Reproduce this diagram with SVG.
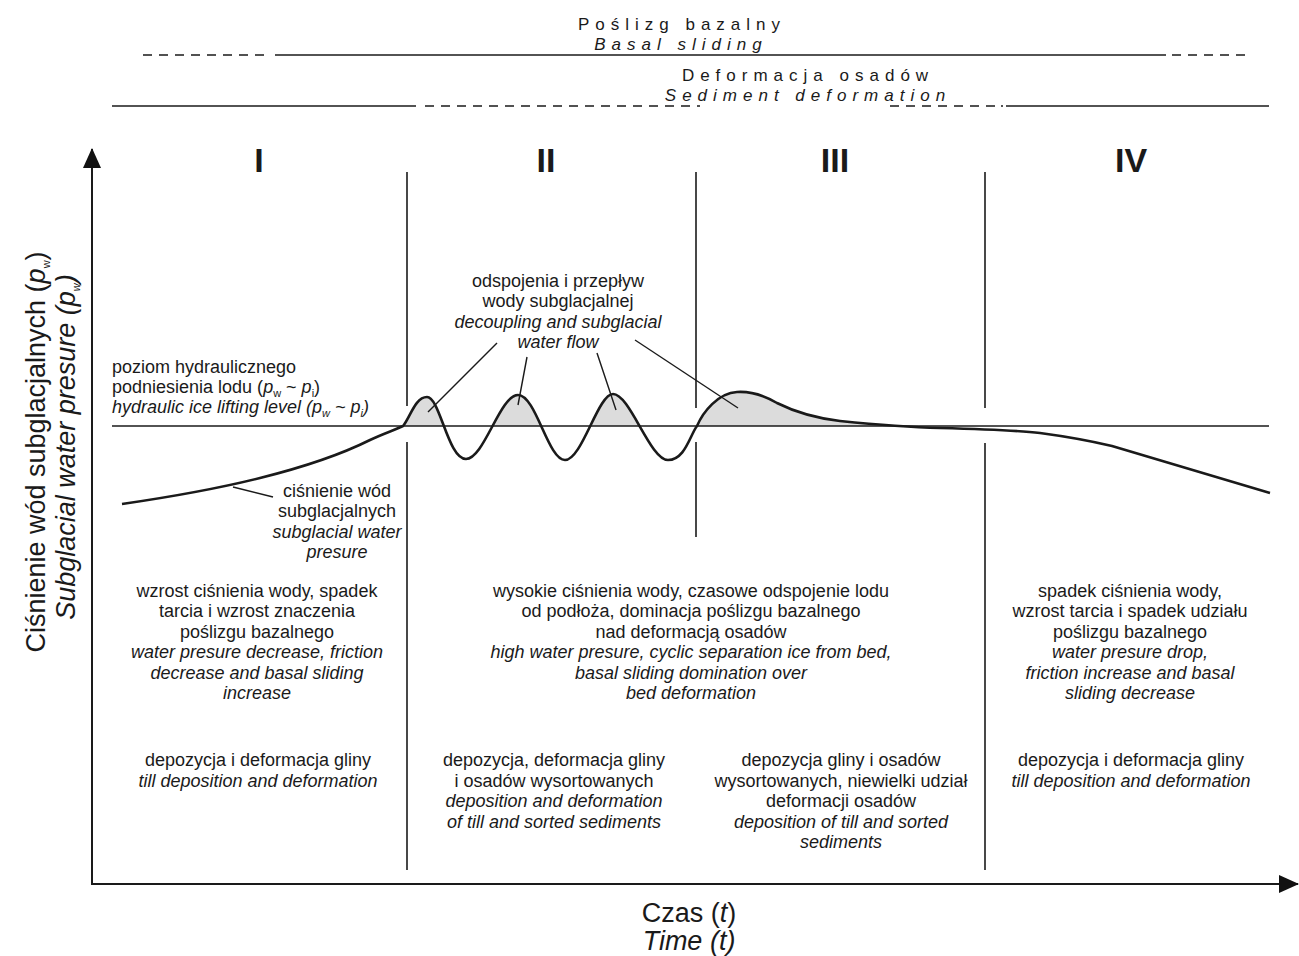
<svg xmlns="http://www.w3.org/2000/svg" width="1299" height="956" viewBox="0 0 1299 956">
<style>
text{font-family:"Liberation Sans",Arial,sans-serif;fill:#1a1a1a}
.t{font-size:18px;text-anchor:middle}
.i{font-style:italic}
.hdr{font-size:17px;letter-spacing:6px;text-anchor:middle}
.rn{font-size:34px;font-weight:bold;text-anchor:middle}
.ax{font-size:27px}
.ln{stroke:#1a1a1a;fill:none}
.sub{font-size:11px}
</style>
<defs>
<marker id="ah" viewBox="0 0 20 18" refX="19" refY="9" markerWidth="20" markerHeight="18" markerUnits="userSpaceOnUse" orient="auto">
<path d="M0,0 L20,9 L0,18 Z" fill="#111"/>
</marker>
<clipPath id="above"><rect x="395" y="300" width="600" height="126"/></clipPath>
</defs>
<rect width="1299" height="956" fill="#fff"/>

<g id="header">
<text class="hdr" x="682" y="30">Poślizg bazalny</text>
<text class="hdr i" x="681" y="50">Basal sliding</text>
<text class="hdr" x="808" y="81">Deformacja osadów</text>
<text class="hdr i" x="808" y="101">Sediment deformation</text>
</g>

<g id="header-lines" class="ln" stroke-width="1.6">
<line x1="143" y1="55" x2="270" y2="55" stroke-dasharray="9 7"/>
<line x1="275" y1="55" x2="1166" y2="55"/>
<line x1="1172" y1="55" x2="1252" y2="55" stroke-dasharray="9 7"/>
<line x1="112" y1="106" x2="416" y2="106"/>
<line x1="425" y1="106" x2="700" y2="106" stroke-dasharray="9 7"/>
<line x1="890" y1="106" x2="998" y2="106" stroke-dasharray="9 7"/>
<line x1="1001" y1="106" x2="1003" y2="106"/>
<line x1="1006" y1="106" x2="1269" y2="106"/>
</g>

<g id="numerals">
<text class="rn" x="259" y="172">I</text>
<text class="rn" x="546" y="172">II</text>
<text class="rn" x="835" y="172">III</text>
<text class="rn" x="1131" y="172">IV</text>
</g>

<g id="axes">
<line class="ln" x1="92" y1="885" x2="92" y2="149" stroke-width="2" marker-end="url(#ah)"/>
<line class="ln" x1="91" y1="884" x2="1298" y2="884" stroke-width="2" marker-end="url(#ah)"/>
<text class="ax" text-anchor="middle" transform="translate(45,452) rotate(-90)">Ciśnienie wód subglacjalnych (<tspan class="i">p</tspan><tspan class="sub" dy="5">w</tspan><tspan dy="-5">)</tspan></text>
<text class="ax i" text-anchor="middle" transform="translate(75,447) rotate(-90)">Subglacial water presure (p<tspan class="sub" dy="5">w</tspan><tspan dy="-5">)</tspan></text>
<text class="ax" text-anchor="middle" x="689" y="922">Czas (<tspan class="i">t</tspan>)</text>
<text class="ax i" text-anchor="middle" x="689" y="950">Time (t)</text>
</g>

<g id="dividers" class="ln" stroke-width="1.6">
<line x1="407" y1="172" x2="407" y2="406"/>
<line x1="407" y1="442" x2="407" y2="870"/>
<line x1="696" y1="172" x2="696" y2="408"/>
<line x1="696" y1="442" x2="696" y2="537"/>
<line x1="985" y1="172" x2="985" y2="408"/>
<line x1="985" y1="443" x2="985" y2="870"/>
</g>

<g id="curve">
<path clip-path="url(#above)" fill="#dcdcdc" stroke="none" d="M403,426 C410,418 415,397 427,397 C440,397 448,459 466,459 C484,459 500,395 518,395 C536,395 548,460 565,460 C582,460 598,394 613,394 C630,394 650,460 668,460 C685,460 690,435 697,426 C703,412 718,393 737,392 C752,391 765,396 777,403 C795,412 815,418 840,421 C870,424 900,427 940,428 L940,426 Z"/>
<line class="ln" x1="112" y1="426" x2="1269" y2="426" stroke-width="1.6"/>
<path class="ln" stroke-width="2.6" stroke-linejoin="round" d="M122,504 C170,497 220,488 260,478 C300,468 340,455 370,440 C385,433 395,430 403,426 C410,418 415,397 427,397 C440,397 448,459 466,459 C484,459 500,395 518,395 C536,395 548,460 565,460 C582,460 598,394 613,394 C630,394 650,460 668,460 C685,460 690,435 697,426 C703,412 718,393 737,392 C752,391 765,396 777,403 C795,412 815,418 840,421 C870,424 900,427 940,428 C980,429 1015,430 1040,433 C1070,437 1095,442 1112,446 L1270,493"/>
</g>

<g id="leaders" class="ln" stroke-width="1.4">
<line x1="497" y1="343" x2="428" y2="412"/>
<line x1="527" y1="357" x2="518" y2="405"/>
<line x1="597" y1="353" x2="616" y2="410"/>
<line x1="635" y1="340" x2="738" y2="408"/>
<line x1="233" y1="487" x2="273" y2="497"/>
</g>

<g id="label-level">
<text font-size="18" x="112" y="373">poziom hydraulicznego</text>
<text font-size="18" x="112" y="393">podniesienia lodu (<tspan class="i">p</tspan><tspan class="sub" dy="4">w</tspan><tspan dy="-4"> ~ </tspan><tspan class="i">p</tspan><tspan class="sub" dy="4">i</tspan><tspan dy="-4">)</tspan></text>
<text font-size="18" class="i" x="112" y="413">hydraulic ice lifting level (p<tspan class="sub" dy="4">w</tspan><tspan dy="-4"> ~ p</tspan><tspan class="sub" dy="4">i</tspan><tspan dy="-4">)</tspan></text>
</g>

<g id="label-pressure">
<text class="t" x="337" y="497">ciśnienie wód</text>
<text class="t" x="337" y="517">subglacjalnych</text>
<text class="t i" x="337" y="538">subglacial water</text>
<text class="t i" x="337" y="558">presure</text>
</g>

<g id="label-decoupling">
<text class="t" x="558" y="287">odspojenia i przepływ</text>
<text class="t" x="558" y="307">wody subglacjalnej</text>
<text class="t i" x="558" y="328">decoupling and subglacial</text>
<text class="t i" x="558" y="348">water flow</text>
</g>

<g id="desc-I">
<text class="t" x="257" y="597">wzrost ciśnienia wody, spadek</text>
<text class="t" x="257" y="617">tarcia i wzrost znaczenia</text>
<text class="t" x="257" y="638">poślizgu bazalnego</text>
<text class="t i" x="257" y="658">water presure decrease, friction</text>
<text class="t i" x="257" y="679">decrease and basal sliding</text>
<text class="t i" x="257" y="699">increase</text>
<text class="t" x="258" y="766">depozycja i deformacja gliny</text>
<text class="t i" x="258" y="787">till deposition and deformation</text>
</g>

<g id="desc-II-III">
<text class="t" x="691" y="597">wysokie ciśnienia wody, czasowe odspojenie lodu</text>
<text class="t" x="691" y="617">od podłoża, dominacja poślizgu bazalnego</text>
<text class="t" x="691" y="638">nad deformacją osadów</text>
<text class="t i" x="691" y="658">high water presure, cyclic separation ice from bed,</text>
<text class="t i" x="691" y="679">basal sliding domination over</text>
<text class="t i" x="691" y="699">bed deformation</text>
</g>

<g id="desc-II">
<text class="t" x="554" y="766">depozycja, deformacja gliny</text>
<text class="t" x="554" y="787">i osadów wysortowanych</text>
<text class="t i" x="554" y="807">deposition and deformation</text>
<text class="t i" x="554" y="828">of till and sorted sediments</text>
</g>

<g id="desc-III">
<text class="t" x="841" y="766">depozycja gliny i osadów</text>
<text class="t" x="841" y="787">wysortowanych, niewielki udział</text>
<text class="t" x="841" y="807">deformacji osadów</text>
<text class="t i" x="841" y="828">deposition of till and sorted</text>
<text class="t i" x="841" y="848">sediments</text>
</g>

<g id="desc-IV">
<text class="t" x="1130" y="597">spadek ciśnienia wody,</text>
<text class="t" x="1130" y="617">wzrost tarcia i spadek udziału</text>
<text class="t" x="1130" y="638">poślizgu bazalnego</text>
<text class="t i" x="1130" y="658">water presure drop,</text>
<text class="t i" x="1130" y="679">friction increase and basal</text>
<text class="t i" x="1130" y="699">sliding decrease</text>
<text class="t" x="1131" y="766">depozycja i deformacja gliny</text>
<text class="t i" x="1131" y="787">till deposition and deformation</text>
</g>
</svg>
